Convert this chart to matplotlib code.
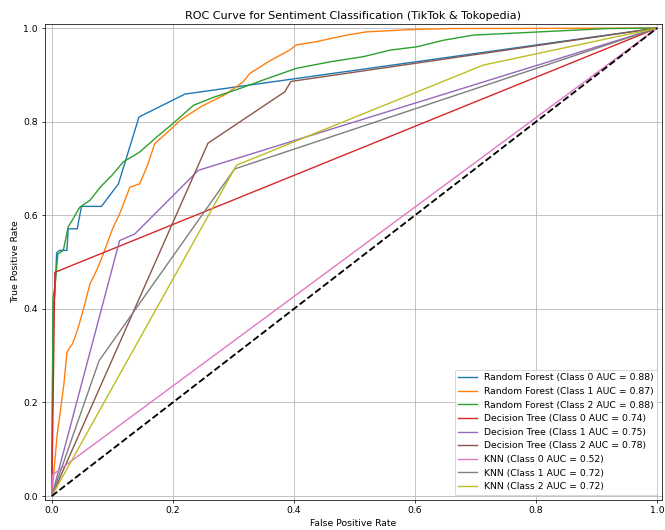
import matplotlib.pyplot as plt

# ROC points
rf0_fpr = [0.0, 0.002, 0.005, 0.008, 0.013, 0.025, 0.027, 0.042, 0.045, 0.049, 0.082, 0.110, 0.144, 0.220, 1.0]
rf0_tpr = [0.0, 0.400, 0.430, 0.520, 0.525, 0.525, 0.571, 0.571, 0.592, 0.619, 0.619, 0.667, 0.810, 0.859, 1.0]

rf1_fpr = [0.0, 0.004, 0.009, 0.014, 0.020, 0.025, 0.030, 0.034, 0.042, 0.050, 0.056, 0.063, 0.075, 0.085,
           0.100, 0.112, 0.129, 0.145, 0.157, 0.170, 0.195, 0.212, 0.245, 0.289, 0.316, 0.327, 0.360, 0.393,
           0.404, 0.437, 0.487, 0.520, 0.597, 0.658, 1.0]
rf1_tpr = [0.0, 0.060, 0.133, 0.180, 0.240, 0.307, 0.318, 0.325, 0.353, 0.389, 0.418, 0.453, 0.485, 0.517,
           0.570, 0.603, 0.660, 0.667, 0.703, 0.753, 0.782, 0.803, 0.831, 0.860, 0.885, 0.903, 0.930, 0.953,
           0.964, 0.971, 0.985, 0.992, 0.997, 0.999, 1.0]

rf2_fpr = [0.0, 0.002, 0.005, 0.010, 0.019, 0.027, 0.035, 0.046, 0.063, 0.080, 0.099, 0.118, 0.145, 0.173,
           0.200, 0.234, 0.267, 0.311, 0.349, 0.404, 0.460, 0.515, 0.559, 0.603, 0.647, 0.696, 0.807, 0.917, 1.0]
rf2_tpr = [0.0, 0.425, 0.446, 0.517, 0.525, 0.575, 0.592, 0.617, 0.632, 0.660, 0.685, 0.714, 0.735, 0.767,
           0.796, 0.835, 0.852, 0.871, 0.889, 0.914, 0.928, 0.939, 0.953, 0.960, 0.974, 0.985, 0.992, 0.999, 1.0]

dt0_fpr = [0.0, 0.005, 1.0]
dt0_tpr = [0.0, 0.478, 1.0]
dt1_fpr = [0.0, 0.112, 0.137, 0.242, 1.0]
dt1_tpr = [0.0, 0.546, 0.560, 0.696, 1.0]
dt2_fpr = [0.0, 0.258, 0.385, 0.395, 1.0]
dt2_tpr = [0.0, 0.754, 0.864, 0.886, 1.0]

knn0_fpr = [0.0, 0.001, 1.0]
knn0_tpr = [0.0, 0.045, 1.0]
knn1_fpr = [0.0, 0.078, 0.302, 1.0]
knn1_tpr = [0.0, 0.289, 0.699, 1.0]
knn2_fpr = [0.0, 0.305, 0.713, 1.0]
knn2_tpr = [0.0, 0.707, 0.921, 1.0]

curves = [
    ('Random Forest (Class 0 AUC = 0.88)', rf0_fpr, rf0_tpr),
    ('Random Forest (Class 1 AUC = 0.87)', rf1_fpr, rf1_tpr),
    ('Random Forest (Class 2 AUC = 0.88)', rf2_fpr, rf2_tpr),
    ('Decision Tree (Class 0 AUC = 0.74)', dt0_fpr, dt0_tpr),
    ('Decision Tree (Class 1 AUC = 0.75)', dt1_fpr, dt1_tpr),
    ('Decision Tree (Class 2 AUC = 0.78)', dt2_fpr, dt2_tpr),
    ('KNN (Class 0 AUC = 0.52)', knn0_fpr, knn0_tpr),
    ('KNN (Class 1 AUC = 0.72)', knn1_fpr, knn1_tpr),
    ('KNN (Class 2 AUC = 0.72)', knn2_fpr, knn2_tpr),
]

fig = plt.figure(figsize=(10, 530 / 66.5), dpi=66.5)
ax = fig.add_axes([0.067, 0.0575, 0.9285, 0.897])

for label, fpr, tpr in curves:
    ax.plot(fpr, tpr, label=label, lw=1.5)

ax.plot([0, 1], [0, 1], 'k--', lw=2)  # chance line

ax.set_xlim(-0.012, 1.008)
ax.set_ylim(-0.0075, 1.0085)
ax.set_title('ROC Curve for Sentiment Classification (TikTok & Tokopedia)')
ax.set_xlabel('False Positive Rate')
ax.set_ylabel('True Positive Rate')
ax.legend(loc='lower right')
ax.grid(True)

fig.savefig('out.png', dpi=66.5)
